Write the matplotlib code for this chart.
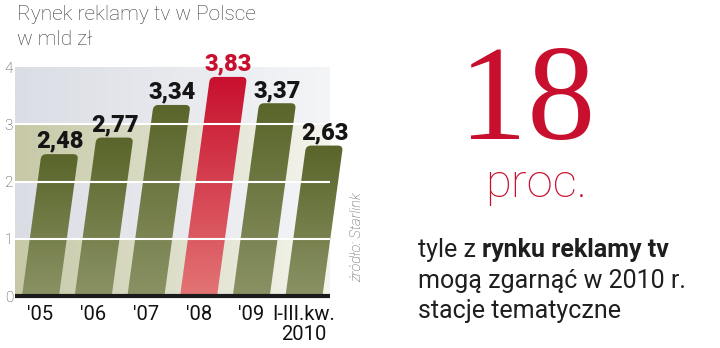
import numpy as np
import matplotlib
matplotlib.use("Agg")
import matplotlib.pyplot as plt
from matplotlib.path import Path
from matplotlib.patches import PathPatch
from matplotlib import font_manager as fm
from matplotlib.textpath import TextPath
from matplotlib.colors import to_rgb

# ---------------- data ----------------
categories = ["'05", "'06", "'07", "'08", "'09", "I-III.kw.\n2010"]
values = [2.48, 2.77, 3.34, 3.83, 3.37, 2.63]
value_labels = ["2,48", "2,77", "3,34", "3,83", "3,37", "2,63"]
highlight_index = 3
y_ticks = [0, 1, 2, 3, 4]
y_tick_labels = ["0", "1", "2", "3", "4"]
title_lines = ["Rynek reklamy tv w Polsce", "w mld zł"]
big_number = "18"
big_unit = "proc."
note_regular = "tyle z"
note_bold = "rynku reklamy tv"
note_lines = ["mogą zgarnąć w 2010 r.", "stacje tematyczne"]
source = "źródło: Starlink"

# ---------------- fonts ----------------
names = {f.name for f in fm.fontManager.ttflist}
SANS = "Roboto" if "Roboto" in names else "DejaVu Sans"
NARROW = "Liberation Sans Narrow" if "Liberation Sans Narrow" in names else None
SERIF = "Liberation Serif" if "Liberation Serif" in names else "DejaVu Serif"


def size_for_height(text, prop, target_px):
    ext = TextPath((0, 0), text, size=100, prop=prop).get_extents()
    return (target_px * 72 / 100) / (ext.height / 100)


RED = "#c8102e"
W, H = 720, 348
fig = plt.figure(figsize=(W / 100, H / 100), dpi=100)

# axes geometry (pixels)
y0_px, y4_px = 296, 67.2
ax = fig.add_axes([15 / W, (H - y0_px) / H, 330 / W, (y0_px - y4_px) / H])
unit_x_px = 52.7
xmin = -25.5 / unit_x_px
xmax = xmin + 330 / unit_x_px
xband = xmin + 315 / unit_x_px
slant = 7.8 / unit_x_px          # x shift per y unit (italic bars)
bar_w = 37 / unit_x_px
rx = 5 / unit_x_px
ry = 5 / ((y0_px - y4_px) / 4)

# ---------------- background bands ----------------
nx, ny = 300, 400
img = np.zeros((ny, nx, 3))
t = np.linspace(0, 1, nx)[:, None]
khaki_l, khaki_r = np.array(to_rgb("#c6c8a6")), np.array(to_rgb("#f5f5ee"))
gray_l, gray_r = np.array(to_rgb("#dadde4")), np.array(to_rgb("#f4f5f7"))
ys = np.linspace(0, 4, ny, endpoint=False)
for j, yv in enumerate(ys):
    if int(yv) % 2 == 0:
        img[j] = khaki_l + (khaki_r - khaki_l) * t
    else:
        img[j] = gray_l + (gray_r - gray_l) * t
ax.imshow(img, extent=(xmin, xband, 0, 4), origin="lower", aspect="auto",
          zorder=0, interpolation="bilinear")

# ---------------- bars ----------------
def bar_path(xc, h):
    xl0, xr0 = xc - bar_w / 2, xc + bar_w / 2
    xlt, xrt = xl0 + slant * h, xr0 + slant * h
    verts = [(xl0, 0), (xr0, 0), (xr0 + slant * (h - ry), h - ry), (xrt, h),
             (xrt - rx, h), (xlt + rx, h), (xlt, h),
             (xl0 + slant * (h - ry), h - ry), (xl0, 0)]
    codes = [Path.MOVETO, Path.LINETO, Path.LINETO, Path.CURVE3, Path.CURVE3,
             Path.LINETO, Path.CURVE3, Path.CURVE3, Path.CLOSEPOLY]
    return Path(verts, codes), xl0, xrt

for i, v in enumerate(values):
    path, x_lo, x_hi = bar_path(i, v)
    patch = PathPatch(path, facecolor="none", edgecolor="none", zorder=2)
    ax.add_patch(patch)
    if i == highlight_index:
        top, bot = np.array(to_rgb("#c8102e")), np.array(to_rgb("#e27474"))
    else:
        top, bot = np.array(to_rgb("#59652a")), np.array(to_rgb("#8a9264"))
    g = np.linspace(0, 1, 100)[:, None, None]
    grad = bot + (top - bot) * g
    im = ax.imshow(grad, extent=(x_lo - 0.02, x_hi + 0.02, 0, v), origin="lower",
                   aspect="auto", zorder=2, interpolation="bilinear")
    im.set_clip_path(patch)
    ax.text(i + slant * v, v + 0.11, value_labels[i], ha="center", va="baseline",
            fontsize=17, fontweight="black", family=SANS,
            color=RED if i == highlight_index else "#151515", zorder=6)

# grid & base line
ax.hlines([1, 2, 3], xmin, xband, colors="white", lw=1.5, zorder=4)
ax.hlines(0, xmin, xband, colors="#1a1a1a", lw=3, zorder=5, clip_on=False)

ax.set_xlim(xmin, xmax)
ax.set_ylim(0, 4)
for sp in ax.spines.values():
    sp.set_visible(False)
ax.set_yticks(y_ticks)
ax.set_yticklabels(y_tick_labels, family=SANS, fontweight="light", fontsize=11,
                   color="#444444")
ax.set_xticks(range(len(categories)))
ax.set_xticklabels(categories, family=SANS, fontsize=14.5, color="#111111",
                   linespacing=1.05)
ax.tick_params(axis="y", length=0, pad=1.5)
ax.tick_params(axis="x", length=0, pad=6.5)

# ---------------- titles & annotations ----------------
for k, yb in enumerate([20, 45]):
    fig.text(17 / W, 1 - yb / H, title_lines[k], family=SANS, fontweight="light",
             fontsize=15, color="#3a3a3a", va="baseline", ha="left")

fp_serif = fm.FontProperties(family=SERIF)
fs18 = size_for_height(big_number, fp_serif, 92)
fig.text(527 / W, 1 - 139 / H, big_number, family=SERIF, fontsize=fs18,
         color=RED, ha="center", va="baseline")

if NARROW:
    fp_unit = fm.FontProperties(family=NARROW)
    fs_proc = size_for_height(big_unit, fp_unit, 38)
    fig.text(536 / W, 1 - 197 / H, big_unit, family=NARROW, fontsize=fs_proc,
             color=RED, ha="center", va="baseline")
else:
    fp_unit = fm.FontProperties(family=SANS, weight="light")
    fs_proc = size_for_height(big_unit, fp_unit, 35)
    fig.text(536 / W, 1 - 197 / H, big_unit, family=SANS, fontweight="light",
             fontsize=fs_proc, color=RED, ha="center", va="baseline")

t1 = fig.text(418 / W, 1 - 257 / H, note_regular, family=SANS, fontsize=18,
              color="#1e1e1e", ha="left", va="baseline")
fig.canvas.draw()
bb = t1.get_window_extent(fig.canvas.get_renderer())
fig.text((bb.x1 + 6) / W, 1 - 257 / H, note_bold, family=SANS, fontsize=18,
         fontweight="bold", color="#1e1e1e", ha="left", va="baseline")
fig.text(418 / W, 1 - 288 / H, note_lines[0], family=SANS, fontsize=18,
         color="#1e1e1e", ha="left", va="baseline")
fig.text(418 / W, 1 - 318 / H, note_lines[1], family=SANS, fontsize=18,
         color="#1e1e1e", ha="left", va="baseline")

fig.text(357 / W, 1 - 237 / H, source, family=SANS, fontweight="light",
         style="italic", fontsize=10.5, color="#555555", rotation=90,
         ha="center", va="center")

fig.savefig("out.png", dpi=100)
